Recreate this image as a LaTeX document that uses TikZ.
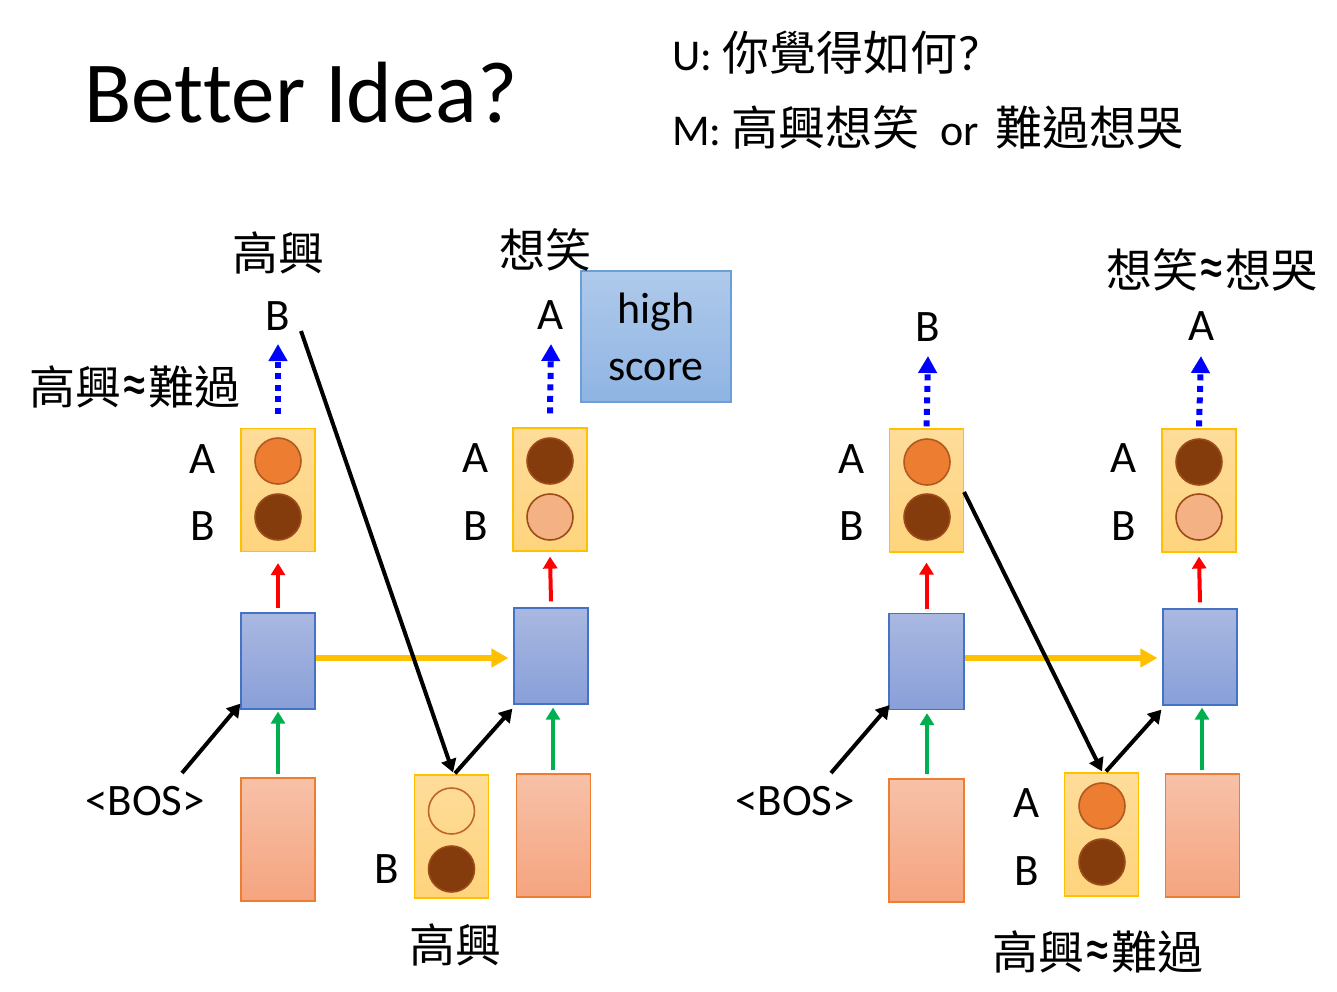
\documentclass[tikz,border=0pt]{standalone}
\usepackage{fontspec}
\setmainfont{Carlito}
\newfontfamily\cjk{Noto Sans CJK TC}
\usetikzlibrary{arrows.meta}
\definecolor{ygold}{HTML}{FFC000}
\definecolor{ytop}{HTML}{FEDC9A}
\definecolor{ybot}{HTML}{FED47C}
\definecolor{bline}{HTML}{4472C4}
\definecolor{btop}{HTML}{AAB8E1}
\definecolor{bbot}{HTML}{889FD8}
\definecolor{pline}{HTML}{ED7D31}
\definecolor{ptop}{HTML}{F7C1A8}
\definecolor{pbot}{HTML}{F5A47F}
\definecolor{hline}{HTML}{6A9FD8}
\definecolor{htop}{HTML}{AFCAEB}
\definecolor{hbot}{HTML}{8FB4E3}
\definecolor{corg}{HTML}{ED7D31}
\definecolor{corgl}{HTML}{AE5A21}
\definecolor{cdrk}{HTML}{843C0C}
\definecolor{cdrkl}{HTML}{9E4B1C}
\definecolor{clgt}{HTML}{F4B183}
\definecolor{cemp}{HTML}{C0652A}
\definecolor{gr}{HTML}{00B050}
\newcommand{\apx}{\raisebox{-2pt}{\scalebox{1.15}[1.45]{\rmfamily ≈}}}
\begin{document}
\begin{tikzpicture}[x=1pt,y=-1pt,
  ybox/.style={draw=ygold, line width=1.2pt, top color=ytop, bottom color=ybot, minimum width=74pt, minimum height=123pt, inner sep=0pt},
  bbox/.style={draw=bline, line width=1.2pt, top color=btop, bottom color=bbot, minimum width=74pt, minimum height=96pt, inner sep=0pt},
  pbox/.style={draw=pline, line width=1.2pt, top color=ptop, bottom color=pbot, minimum width=74pt, minimum height=123pt, inner sep=0pt},
  circ/.style={circle, minimum size=46pt, inner sep=0pt, line width=1.6pt},
  corange/.style={circ, fill=corg, draw=corgl},
  cdark/.style={circ, fill=cdrk, draw=cdrkl},
  clight/.style={circ, fill=clgt, draw=cdrkl},
  cempty/.style={circ, draw=cemp},
  lab/.style={inner sep=0pt, font=\fontsize{45}{50}\selectfont},
  cjklab/.style={inner sep=0pt, font=\cjk\fontsize{46}{50}\selectfont},
  redarr/.style={draw=red, line width=4pt, -{Triangle[length=12pt,width=14pt]}},
  grarr/.style={draw=gr, line width=4pt, -{Triangle[length=12pt,width=14pt]}},
  yarr/.style={draw=ygold, line width=6pt, -{Triangle[length=17pt,width=18pt]}},
  bluearr/.style={draw=blue, line width=6pt, dash pattern=on 6pt off 5.5pt, -{Triangle[length=17pt,width=18pt]}},
  blkarr/.style={draw=black, line width=4pt, -{Triangle[length=13pt,width=15pt]}},
]
\useasboundingbox (0,0) rectangle (1337,991);

% titles
\node[inner sep=0pt, anchor=base west, font=\fontsize{87}{90}\selectfont] (title) at (84,122) {Bet\kern0pt ter Idea?};
\node[inner sep=0pt, anchor=base west, font=\fontsize{44}{50}\selectfont] (uline) at (672,70) {U: {\cjk\fontsize{47}{50}\selectfont 你覺得如何}{\fontsize{50}{50}\selectfont ?}};
\node[inner sep=0pt, anchor=base west, font=\fontsize{44}{50}\selectfont] (mline) at (672,145) {M: {\cjk\fontsize{47}{50}\selectfont 高興想笑}\hspace{21pt}or\hspace{16pt}{\cjk\fontsize{47}{50}\selectfont 難過想哭}};

% ---------- left diagram ----------
\node[ybox] (yL1) at (278,490) {};
\node[corange] (cL1a) at (278,461) {};
\node[cdark] (cL1b) at (278,517) {};
\node[bbox] (bL1) at (278,661) {};
\node[pbox] (pL1) at (278,839.5) {};

\node[ybox] (yL2) at (550,489.5) {};
\node[cdark] (cL2a) at (550,461) {};
\node[clight] (cL2b) at (550,517) {};
\node[bbox] (bL2) at (551,656) {};
\node[pbox] (pL2) at (553.5,835.5) {};

\node[ybox] (mL) at (451.5,836.5) {};
\node[cempty] (cmLa) at (451.5,811) {};
\node[cdark] (cmLb) at (451.5,869) {};

\node[draw=hline, line width=1.2pt, top color=htop, bottom color=hbot, minimum width=150pt, minimum height=131pt, inner sep=0pt, align=center, font=\fontsize{44}{57}\selectfont] (hs) at (656,336.5) {high\\score};

\node[lab] (aL1) at (203,459) {A};
\node[lab] (bbL1) at (203,526) {B};
\node[lab] (aL2) at (476,458) {A};
\node[lab] (bbL2) at (476,526) {B};
\node[lab] (bmL) at (387,869) {B};
\node[lab] (oL1) at (278,316) {B};
\node[lab] (oL2) at (551,315) {A};
\node[lab] (bosL) at (145,801) {<BOS>};

\node[cjklab] (tL1) at (278,253) {高興};
\node[cjklab] (tL2) at (545,250) {想笑};
\node[cjklab] (tL3) at (135,387) {高興\apx 難過};
\node[cjklab] (tL4) at (455,945) {高興};

\draw[redarr] ([yshift=4pt]bL1.north) -- ([yshift=-11pt]yL1.south);
\draw[redarr] ([yshift=6pt]bL2.north) -- ([yshift=-5pt]yL2.south);
\draw[grarr] ([yshift=3pt]pL1.north) -- ([yshift=-2pt]bL1.south);
\draw[grarr] ([xshift=-0.5pt,yshift=3pt]pL2.north) -- ([xshift=2pt,yshift=-3pt]bL2.south);
\draw[bluearr] ([yshift=14pt]yL1.north) -- ([yshift=-28pt]oL1.center);
\draw[bluearr] ([yshift=14pt]yL2.north) -- ([yshift=-29pt]oL2.center);
\draw[yarr] ([yshift=3pt]bL1.east) -- ([xshift=-5pt,yshift=-2pt]bL2.west);
\draw[blkarr] ([xshift=37pt,yshift=28pt]bosL.center) -- ([yshift=6pt]bL1.south west);
\draw[blkarr] ([xshift=23pt,yshift=-15pt]oL1.center) -- ([xshift=1.5pt,yshift=2pt]mL.north);
\draw[blkarr] ([xshift=3.5pt,yshift=1pt]mL.north) -- ([xshift=-1pt,yshift=-4pt]bL2.south west);

% ---------- right diagram ----------
\node[ybox] (yR1) at (926.5,490.5) {};
\node[corange] (cR1a) at (927,462) {};
\node[cdark] (cR1b) at (927,517) {};
\node[bbox, minimum width=75pt] (bR1) at (926.5,661.5) {};
\node[pbox, minimum width=75pt] (pR1) at (926.5,840.5) {};

\node[ybox] (yR2) at (1199,490.5) {};
\node[cdark] (cR2a) at (1199,462) {};
\node[clight] (cR2b) at (1199,517) {};
\node[bbox] (bR2) at (1200,657) {};
\node[pbox] (pR2) at (1202.5,835.5) {};

\node[ybox] (mR) at (1101.5,834.5) {};
\node[corange] (cmRa) at (1102,806) {};
\node[cdark] (cmRb) at (1102,862) {};

\node[lab] (aR1) at (852,459) {A};
\node[lab] (bbR1) at (852,526) {B};
\node[lab] (aR2) at (1124,458) {A};
\node[lab] (bbR2) at (1124,526) {B};
\node[lab] (amR) at (1027,803) {A};
\node[lab] (bmR) at (1027,871) {B};
\node[lab] (oR1) at (928,327) {B};
\node[lab] (oR2) at (1201,326) {A};
\node[lab] (bosR) at (795,801) {<BOS>};

\node[cjklab] (tR1) at (1212,270) {想笑\apx 想哭};
\node[cjklab] (tR2) at (1098,952) {高興\apx 難過};

\draw[redarr] ([yshift=4pt]bR1.north) -- ([yshift=-10pt]yR1.south);
\draw[redarr] ([yshift=6pt]bR2.north) -- ([yshift=-4pt]yR2.south);
\draw[grarr] ([xshift=0.5pt,yshift=4pt]pR1.north) -- ([xshift=0.5pt,yshift=-3pt]bR1.south);
\draw[grarr] ([xshift=-0.5pt,yshift=3pt]pR2.north) -- ([xshift=2pt,yshift=-2pt]bR2.south);
\draw[bluearr] ([yshift=2pt]yR1.north) -- ([yshift=-29pt]oR1.center);
\draw[bluearr] ([yshift=2pt]yR2.north) -- ([yshift=-30pt]oR2.center);
\draw[yarr] ([yshift=3.5pt]bR1.east) -- ([xshift=-5pt,yshift=-1pt]bR2.west);
\draw[blkarr] ([xshift=36pt,yshift=28pt]bosR.center) -- ([xshift=1pt,yshift=5pt]bR1.south west);
\draw[blkarr] ([yshift=-1.5pt]yR1.east) -- ([xshift=0.5pt,yshift=1pt]mR.north);
\draw[blkarr] ([xshift=4.5pt,yshift=1pt]mR.north) -- ([xshift=-1pt,yshift=-4pt]bR2.south west);
\end{tikzpicture}
\end{document}
